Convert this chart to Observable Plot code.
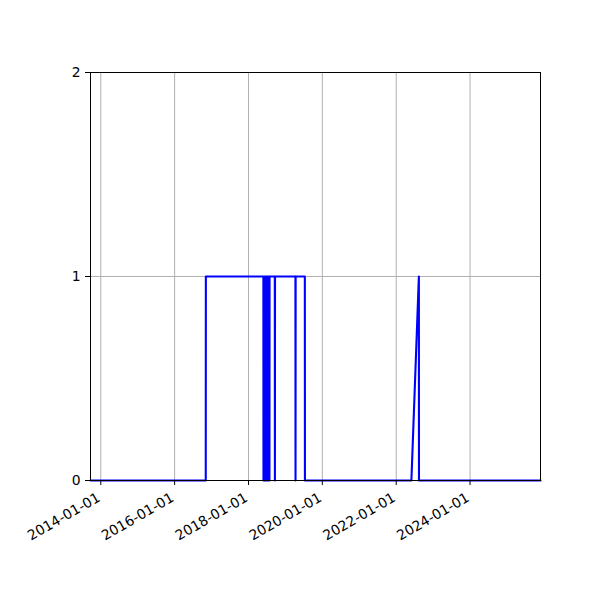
<!DOCTYPE html>
<html>
<head>
<meta charset="utf-8">
<script src="https://cdn.jsdelivr.net/npm/d3@7"></script>
<script src="https://cdn.jsdelivr.net/npm/@observablehq/plot@0.6"></script>
<style>
  html, body { margin: 0; padding: 0; background: #fff; }
</style>
</head>
<body>
<div id="chart"></div>
<script>
const dates = [
  "2013-09-21", "2016-11-04", "2016-11-05",
  "2018-05-28", "2018-05-29", "2018-06-03", "2018-06-04",
  "2018-06-08", "2018-06-09", "2018-06-14", "2018-06-15",
  "2018-06-19", "2018-06-20", "2018-06-25", "2018-06-26",
  "2018-06-30", "2018-07-01", "2018-07-06", "2018-07-07",
  "2018-07-11", "2018-07-12", "2018-07-17", "2018-07-18",
  "2018-07-22", "2018-07-23", "2018-07-27", "2018-07-28",
  "2018-09-18", "2018-09-19", "2018-09-20",
  "2019-04-10", "2019-04-11", "2019-04-12",
  "2019-07-12", "2019-07-13",
  "2022-05-31", "2022-08-13", "2022-08-14",
  "2025-11-28"
];
const values = [
  0, 0, 1,
  1, 0, 0, 1,
  1, 0, 0, 1,
  1, 0, 0, 1,
  1, 0, 0, 1,
  1, 0, 0, 1,
  1, 0, 0, 1,
  1, 0, 1,
  1, 0, 1,
  1, 0,
  0, 1, 0,
  0
];
const xTickLabels = ["2014-01-01", "2016-01-01", "2018-01-01", "2020-01-01", "2022-01-01", "2024-01-01"];
const yTicks = [0, 1, 2];
const xDomain = ["2013-09-21", "2025-11-28"];

const parse = d3.utcParse("%Y-%m-%d");
const data = dates.map((d, i) => ({date: parse(d), value: values[i]}));
const xTicks = xTickLabels.map(parse);

const chart = Plot.plot({
  width: 600,
  height: 600,
  marginLeft: 90,
  marginRight: 60,
  marginTop: 72,
  marginBottom: 120,
  style: {fontFamily: "DejaVu Sans", fontSize: "13.9px", background: "#fff", color: "#000"},
  x: {type: "utc", domain: xDomain.map(parse), label: null},
  y: {domain: [0, 2], label: null},
  marks: [
    Plot.gridX(xTicks, {stroke: "#b0b0b0", strokeOpacity: 1, strokeWidth: 1}),
    Plot.gridY(yTicks, {stroke: "#b0b0b0", strokeOpacity: 1, strokeWidth: 1}),
    Plot.lineY(data, {x: "date", y: "value", stroke: "#0000ff", strokeWidth: 2.1, curve: "linear"}),
    Plot.frame({stroke: "#000", strokeWidth: 1}),
    Plot.axisX({ticks: xTicks, tickFormat: d3.utcFormat("%Y-%m-%d"), tickRotate: -30, tickSize: 5, tickPadding: 5, fontSize: 13.9, label: null, textStroke: "none"}),
    Plot.axisX({ticks: [], tickSize: 0, label: null}),
    Plot.axisY({ticks: yTicks, tickFormat: d3.format("d"), tickSize: 5, tickPadding: 5, fontSize: 13.9, label: null})
  ]
});
document.getElementById("chart").appendChild(chart);
// shift rotated x tick labels to match the reference placement
chart.querySelectorAll("g[aria-label='x-axis tick label'] text").forEach(t => {
  const tr = t.getAttribute("transform") || "";
  t.setAttribute("transform", "translate(-2,6) " + tr);
});
</script>
</body>
</html>
